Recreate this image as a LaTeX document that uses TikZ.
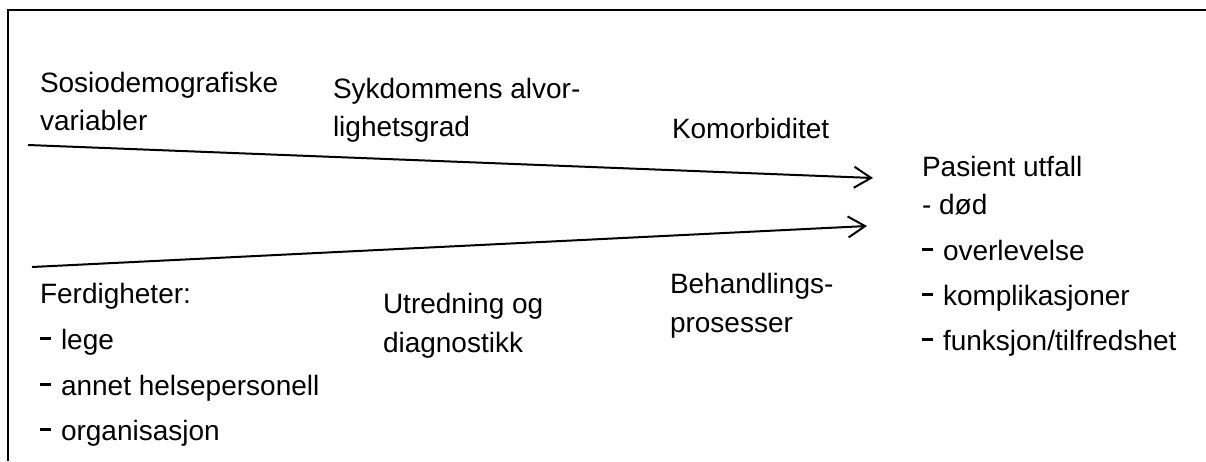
\documentclass[tikz,border=0pt]{standalone}
\usepackage{fontspec}
\setmainfont{Liberation Sans}
\usetikzlibrary{arrows.meta}

% raised bar used as list marker
\newcommand{\listbar}{\rule[4.5pt]{5.5pt}{1.75pt}\hspace{5pt}}

\begin{document}
\begin{tikzpicture}[x=0.5pt,y=-0.5pt,
  lbl/.style={anchor=base west,inner sep=0pt,outer sep=0pt,font=\fontsize{14pt}{17pt}\selectfont},
  frameline/.style={line width=1.3pt},
  flow/.style={line width=1pt,-{Straight Barb[length=8.5pt,width=10.5pt,line width=1pt]}}]
\useasboundingbox (0,0) rectangle (1206,461);

% open frame: top and left sides only
\coordinate (fr-top-right) at (1206,10);
\coordinate (fr-corner) at (8,10);
\coordinate (fr-bottom-left) at (8,461);
\draw[frameline] (fr-top-right) -- (fr-corner) -- (fr-bottom-left);

% upper group of factors
\node[lbl] (sosio1) at (40,92) {Sosiodemografiske};
\node[lbl] (sosio2) at (40,130) {variabler};
\node[lbl] (syk1) at (333,98) {Sykdommens alvor-};
\node[lbl] (syk2) at (333,136) {lighetsgrad};
\node[lbl] (komorb) at (672,138) {Komorbiditet};

% lower group of factors
\node[lbl] (ferd) at (40,303) {Ferdigheter:};
\node[lbl] (lege) at (40,349) {\listbar lege};
\node[lbl] (annet) at (40,395) {\listbar annet helsepersonell};
\node[lbl] (org) at (40,440) {\listbar organisasjon};
\node[lbl] (utr1) at (383,313) {Utredning og};
\node[lbl] (utr2) at (383,352) {diagnostikk};
\node[lbl] (beh1) at (670,293) {Behandlings-};
\node[lbl] (beh2) at (670,332) {prosesser};

% outcomes
\node[lbl] (utfall) at (922,176) {Pasient utfall};
\node[lbl] (dod) at (922,214) {- død};
\node[lbl] (overl) at (922,260) {\listbar overlevelse};
\node[lbl] (kompl) at (922,305) {\listbar komplikasjoner};
\node[lbl] (funk) at (922,350) {\listbar funksjon/tilfredshet};

% converging arrows
\coordinate (upper-start) at (28,145);
\coordinate (upper-end) at (873,178);
\coordinate (lower-start) at (32,267);
\coordinate (lower-end) at (867,226);
\draw[flow] (upper-start) -- (upper-end);
\draw[flow] (lower-start) -- (lower-end);
\end{tikzpicture}
\end{document}
